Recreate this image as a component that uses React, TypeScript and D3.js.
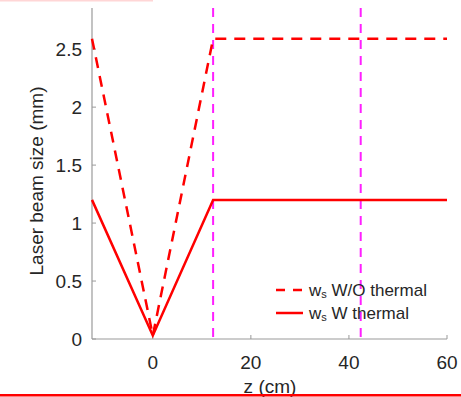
import React from "react";
import * as d3 from "d3";

const zWithout: number[] = [-12.4, 0, 12.3, 60];
const wWithout: number[] = [2.59, 0.03, 2.59, 2.59];
const zWith: number[] = [-12.4, 0, 12.3, 60];
const wWith: number[] = [1.2, 0.03, 1.2, 1.2];
const vLines: number[] = [12.3, 42.4];
const xTicks: number[] = [0, 20, 40, 60];
const yTicks: number[] = [0, 0.5, 1, 1.5, 2, 2.5];
const legendLabels: string[] = ["W/O thermal", "W thermal"];

const W = 461;
const H = 397;
const left = 92;
const right = 447;
const top = 8;
const bottom = 339;

export default function App() {
  const x = d3.scaleLinear().domain([-12.4, 60]).range([left, right]);
  const y = d3.scaleLinear().domain([0, 2.855]).range([bottom, top]);
  const line = d3
    .line<[number, number]>()
    .x((d) => x(d[0]))
    .y((d) => y(d[1]));
  const dWithout = line(zWithout.map((z, i) => [z, wWithout[i]] as [number, number])) || "";
  const dWith = line(zWith.map((z, i) => [z, wWith[i]] as [number, number])) || "";
  const font = "'Liberation Sans', Arial, Helvetica, sans-serif";
  const axisColor = "#9a9a9a";
  return (
    <div style={{ position: "fixed", left: 0, top: 0 }}>
      <svg width={W} height={H} style={{ display: "block", background: "#fff" }}>
        <rect x={0} y={0} width={153} height={1.5} fill="#ffd6d6" />
        {/* axes */}
        <line x1={left} x2={left} y1={top} y2={bottom} stroke={axisColor} strokeWidth={1.2} />
        <line x1={left} x2={right} y1={bottom} y2={bottom} stroke={axisColor} strokeWidth={1.2} />
        {yTicks.map((t) => (
          <g key={"y" + t}>
            <line x1={left} x2={left + 4} y1={y(t)} y2={y(t)} stroke={axisColor} strokeWidth={1} />
            <text
              x={left - 10}
              y={y(t)}
              textAnchor="end"
              dominantBaseline="central"
              fontFamily={font}
              fontSize={19}
              fill="#262626"
            >
              {t}
            </text>
          </g>
        ))}
        {xTicks.map((t) => (
          <g key={"x" + t}>
            <line x1={x(t)} x2={x(t)} y1={bottom} y2={bottom - 4} stroke={axisColor} strokeWidth={1} />
            <text
              x={x(t)}
              y={369}
              textAnchor="middle"
              fontFamily={font}
              fontSize={19}
              fill="#262626"
            >
              {t}
            </text>
          </g>
        ))}
        <text
          transform={`translate(43,181) rotate(-90)`}
          textAnchor="middle"
          fontFamily={font}
          fontSize={19}
          fill="#262626"
        >
          Laser beam size (mm)
        </text>
        <text x={270} y={393} textAnchor="middle" fontFamily={font} fontSize={19} fill="#262626">
          z (cm)
        </text>
        {/* vertical magenta dashed lines */}
        {vLines.map((v) => (
          <line
            key={"v" + v}
            x1={x(v)}
            x2={x(v)}
            y1={top}
            y2={bottom}
            stroke="#ff1fff"
            strokeWidth={2}
            strokeDasharray="9,7"
          />
        ))}
        <path d={dWithout} fill="none" stroke="#ff0000" strokeWidth={2.5} strokeDasharray="11,8" />
        <path d={dWith} fill="none" stroke="#ff0000" strokeWidth={2.5} />
        {/* legend */}
        <line x1={276} x2={303} y1={290} y2={290} stroke="#ff0000" strokeWidth={2.5} strokeDasharray="9,8" />
        <line x1={276} x2={303} y1={313} y2={313} stroke="#ff0000" strokeWidth={2.5} />
        {legendLabels.map((l, i) => (
          <text key={l} x={309} y={290 + i * 23} dominantBaseline="central" fontFamily={font} fontSize={17} fill="#262626">
            w<tspan fontSize={11} dy={4}>s</tspan>
            <tspan dy={-4}>{" " + l}</tspan>
          </text>
        ))}
        <rect x={0} y={394} width={W} height={2.5} fill="#ff0000" />
      </svg>
    </div>
  );
}
